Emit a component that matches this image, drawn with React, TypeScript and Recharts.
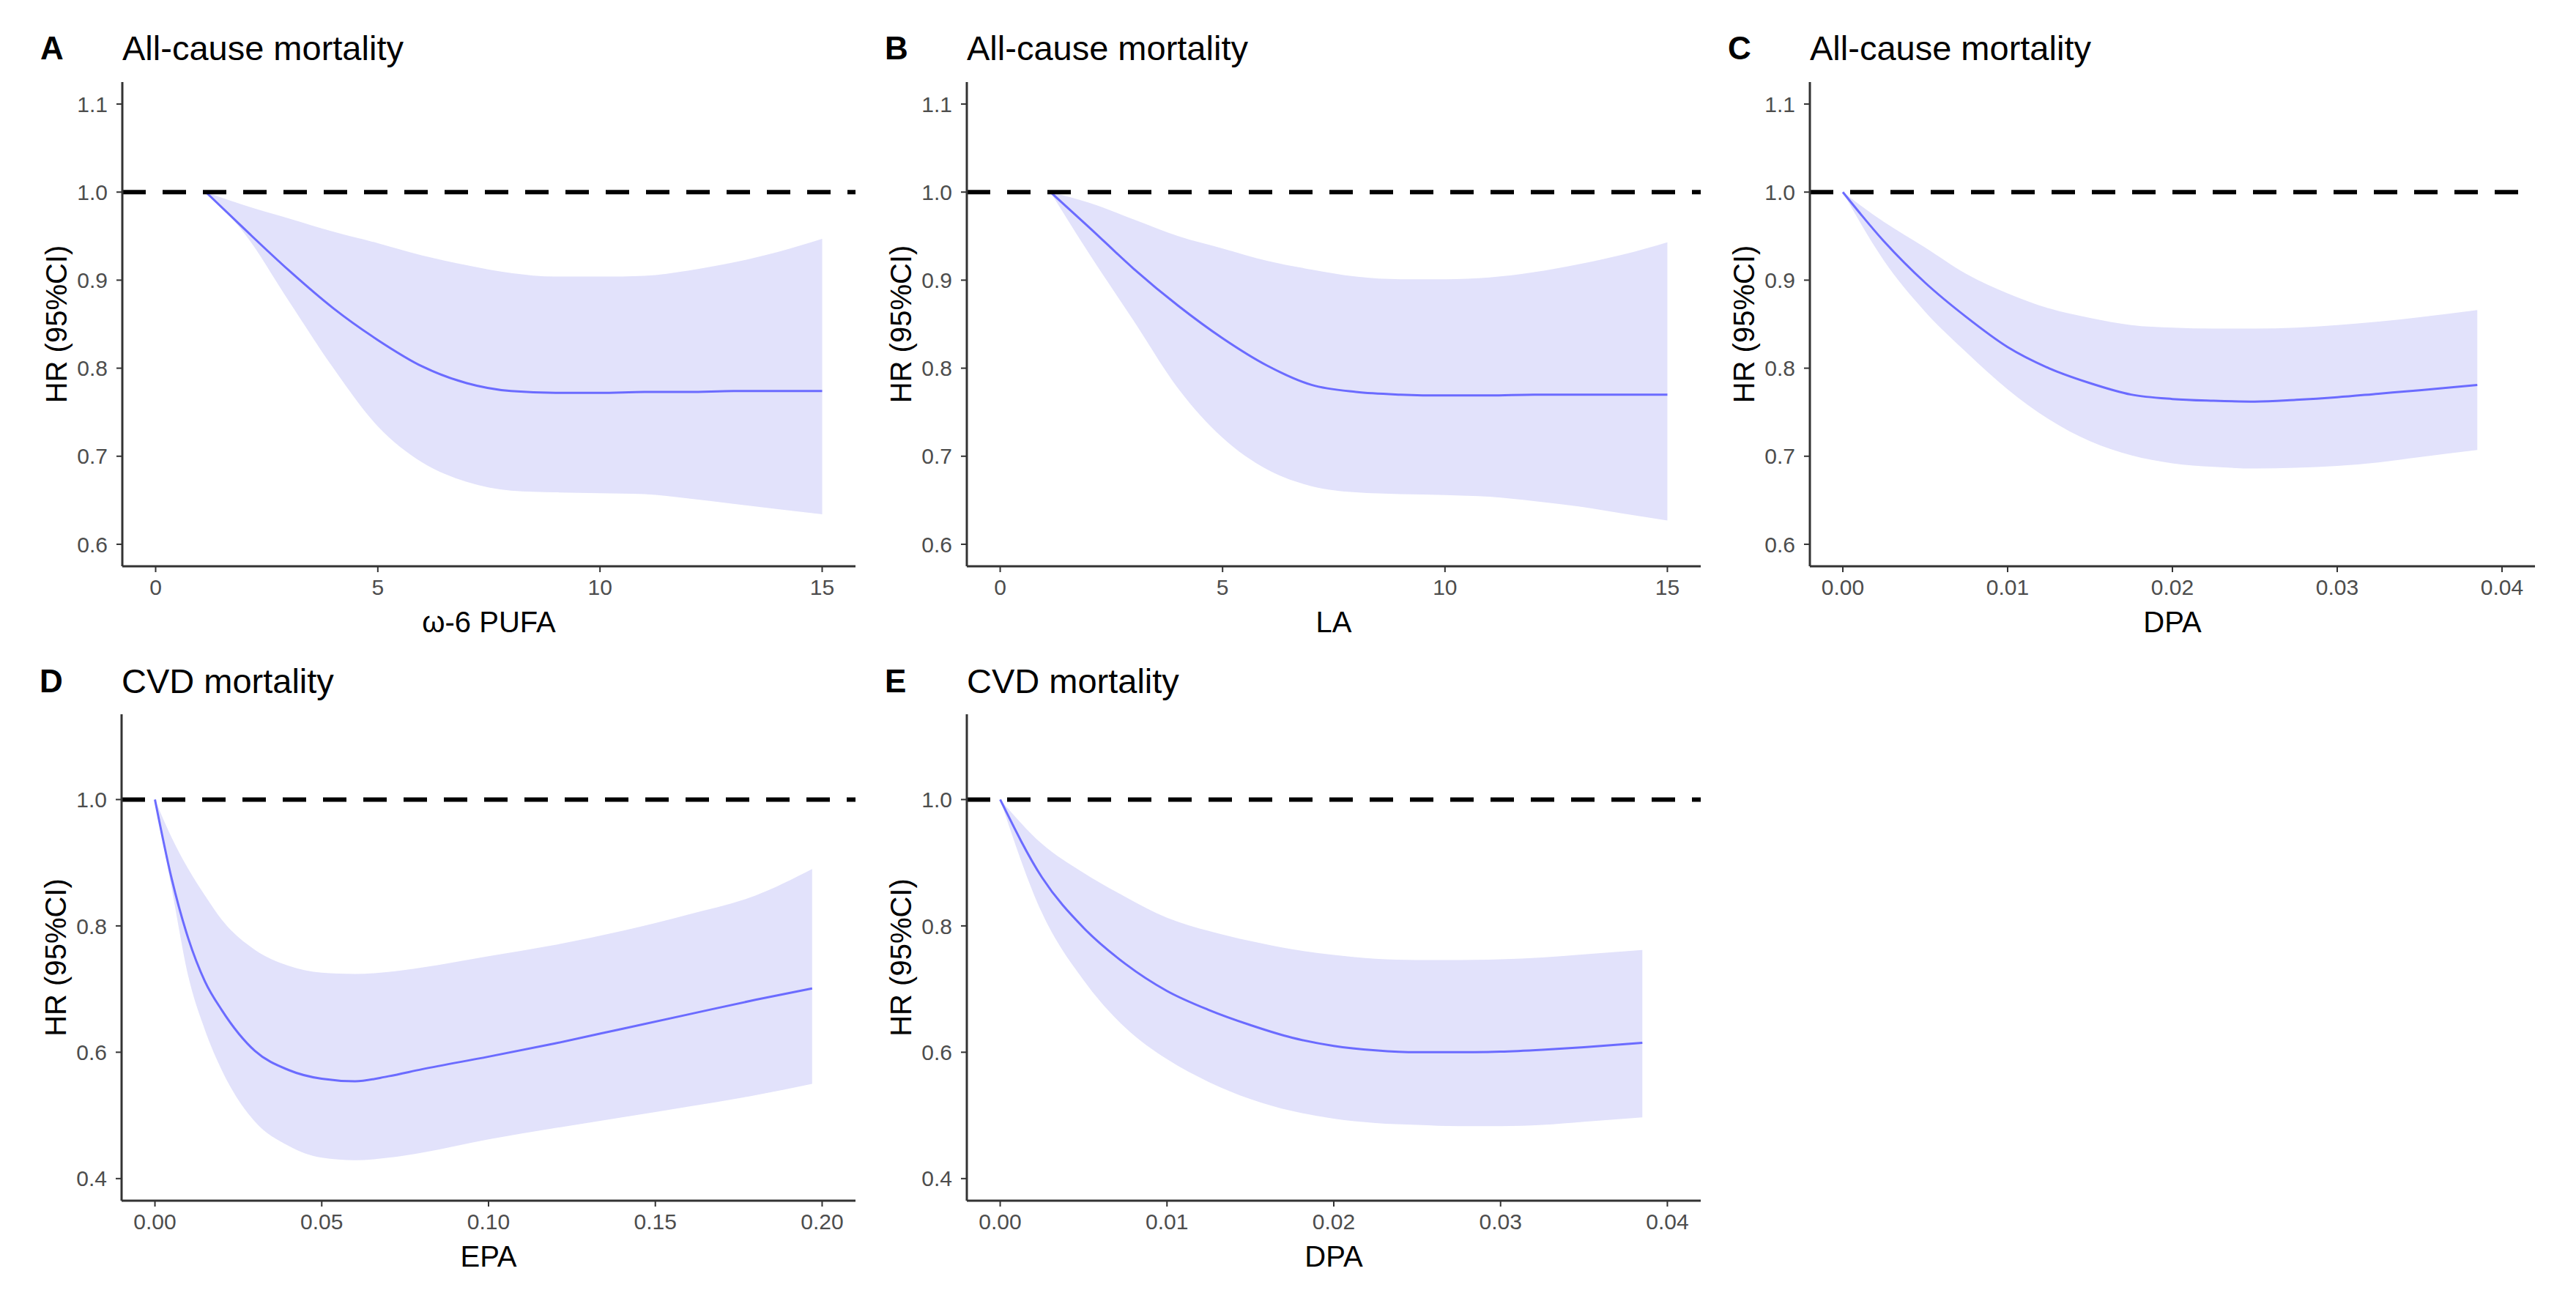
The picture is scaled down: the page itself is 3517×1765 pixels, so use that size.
import { ComposedChart, Area, Line, XAxis, YAxis, ReferenceLine } from 'recharts';

// ---- data (x, HR, 95% CI low / high) ----
const PUFA_X = [1.13, 2, 3, 4, 5, 6, 7, 8, 9, 10, 11, 12, 13, 14, 15];

const A_HR = [1.0, 0.958, 0.911, 0.868, 0.832, 0.802, 0.783, 0.774, 0.772, 0.772, 0.773, 0.773, 0.774, 0.774, 0.774];
const A_LOW = [1.0, 0.953, 0.876, 0.8, 0.734, 0.693, 0.671, 0.661, 0.659, 0.658, 0.657, 0.652, 0.646, 0.64, 0.634];
const A_HIGH = [1.0, 0.985, 0.97, 0.955, 0.942, 0.928, 0.917, 0.908, 0.904, 0.904, 0.905, 0.911, 0.92, 0.932, 0.947];

const B_HR = [1.0, 0.96, 0.913, 0.871, 0.834, 0.803, 0.781, 0.773, 0.77, 0.769, 0.769, 0.77, 0.77, 0.77, 0.77];
const B_LOW = [1.0, 0.93, 0.854, 0.777, 0.721, 0.685, 0.666, 0.659, 0.657, 0.656, 0.654, 0.649, 0.643, 0.635, 0.627];
const B_HIGH = [1.0, 0.988, 0.969, 0.95, 0.936, 0.922, 0.912, 0.904, 0.901, 0.901, 0.903, 0.909, 0.918, 0.929, 0.943];

const DPA_X = [0, 0.0025, 0.005, 0.0075, 0.01, 0.0125, 0.015, 0.0175, 0.02, 0.0225, 0.025, 0.0275, 0.03, 0.0325, 0.035, 0.0385];

const C_HR = [1.0, 0.944, 0.897, 0.858, 0.824, 0.8, 0.783, 0.77, 0.765, 0.763, 0.762, 0.764, 0.767, 0.771, 0.775, 0.781];
const C_LOW = [1.0, 0.922, 0.864, 0.818, 0.776, 0.742, 0.717, 0.701, 0.692, 0.688, 0.686, 0.687, 0.689, 0.693, 0.699, 0.707];
const C_HIGH = [1.0, 0.966, 0.937, 0.907, 0.885, 0.868, 0.857, 0.849, 0.846, 0.845, 0.845, 0.846, 0.849, 0.853, 0.858, 0.866];

const E_HR = [1.0, 0.877, 0.797, 0.74, 0.697, 0.667, 0.643, 0.623, 0.61, 0.603, 0.6, 0.6, 0.601, 0.604, 0.608, 0.615];
const E_LOW = [1.0, 0.821, 0.714, 0.639, 0.589, 0.553, 0.526, 0.507, 0.495, 0.488, 0.485, 0.483, 0.483, 0.485, 0.49, 0.497];
const E_HIGH = [1.0, 0.93, 0.884, 0.846, 0.813, 0.792, 0.776, 0.763, 0.754, 0.748, 0.746, 0.746, 0.747, 0.75, 0.755, 0.762];

const EPA_X = [0, 0.005, 0.01, 0.015, 0.02, 0.03, 0.04, 0.05, 0.06, 0.07, 0.08, 0.1, 0.12, 0.14, 0.16, 0.18, 0.197];
const D_HR = [1.0, 0.875, 0.78, 0.712, 0.667, 0.602, 0.572, 0.558, 0.554, 0.562, 0.573, 0.593, 0.614, 0.637, 0.66, 0.683, 0.701];
const D_LOW = [1.0, 0.86, 0.72, 0.635, 0.572, 0.49, 0.452, 0.433, 0.429, 0.433, 0.441, 0.462, 0.48, 0.497, 0.514, 0.532, 0.55];
const D_HIGH = [1.0, 0.94, 0.89, 0.848, 0.81, 0.762, 0.737, 0.726, 0.724, 0.727, 0.734, 0.752, 0.77, 0.792, 0.818, 0.848, 0.89];

const TICKS_PUFA = [0, 5, 10, 15];
const TICKS_DPA = [0, 0.01, 0.02, 0.03, 0.04];
const TICKS_EPA = [0, 0.05, 0.1, 0.15, 0.2];
const Y_TICKS_ALL = [0.6, 0.7, 0.8, 0.9, 1.0, 1.1];
const Y_TICKS_CVD = [0.4, 0.6, 0.8, 1.0];

const FONT = '"Liberation Sans", Arial, sans-serif';
const BAND = '#E2E2FB';
const LINE = '#6B6BFF';
const AXIS = '#333333';
const TICK_TEXT = '#4D4D4D';

const rows = (x: number[], hr: number[], lo: number[], hi: number[]) =>
  x.map((v, i) => ({ x: v, hr: hr[i], band: [lo[i], hi[i]] }));

const PANELS = [
  { letter: 'A', title: 'All-cause mortality', xLabel: 'ω-6 PUFA', data: rows(PUFA_X, A_HR, A_LOW, A_HIGH),
    xDomain: [-0.75, 15.75], xTicks: TICKS_PUFA, digits: 0, yDomain: [0.575, 1.125], yTicks: Y_TICKS_ALL,
    plotLeft: 167, plotRight: 1168, row: 0 },
  { letter: 'B', title: 'All-cause mortality', xLabel: 'LA', data: rows(PUFA_X, B_HR, B_LOW, B_HIGH),
    xDomain: [-0.75, 15.75], xTicks: TICKS_PUFA, digits: 0, yDomain: [0.575, 1.125], yTicks: Y_TICKS_ALL,
    plotLeft: 1320, plotRight: 2322, row: 0 },
  { letter: 'C', title: 'All-cause mortality', xLabel: 'DPA', data: rows(DPA_X, C_HR, C_LOW, C_HIGH),
    xDomain: [-0.002, 0.042], xTicks: TICKS_DPA, digits: 2, yDomain: [0.575, 1.125], yTicks: Y_TICKS_ALL,
    plotLeft: 2471, plotRight: 3461, row: 0 },
  { letter: 'D', title: 'CVD mortality', xLabel: 'EPA', data: rows(EPA_X, D_HR, D_LOW, D_HIGH),
    xDomain: [-0.01, 0.21], xTicks: TICKS_EPA, digits: 2, yDomain: [0.365, 1.135], yTicks: Y_TICKS_CVD,
    plotLeft: 166, plotRight: 1168, row: 1 },
  { letter: 'E', title: 'CVD mortality', xLabel: 'DPA', data: rows(DPA_X, E_HR, E_LOW, E_HIGH),
    xDomain: [-0.002, 0.042], xTicks: TICKS_DPA, digits: 2, yDomain: [0.365, 1.135], yTicks: Y_TICKS_CVD,
    plotLeft: 1320, plotRight: 2322, row: 1 },
];

// row geometry: chart top, plot top margin, chart height, x-axis height, title centre
const ROWS = [
  { top: 0, marginTop: 112, height: 900, xAxisH: 127, titleY: 66 },
  { top: 870, marginTop: 105, height: 895, xAxisH: 126, titleY: 930 },
];
const Y_AXIS_W = 167;

const XTitle = ({ viewBox, text }: any) => (
  <text x={viewBox.x + viewBox.width / 2} y={viewBox.y + 76} textAnchor="middle" dominantBaseline="central"
    fontSize={40} fill="#000" fontFamily={FONT}>{text}</text>
);

const YTitle = ({ viewBox, text }: any) => {
  const cx = viewBox.x + viewBox.width - 90;
  const cy = viewBox.y + viewBox.height / 2;
  return (
    <text x={cx} y={cy} transform={`rotate(-90, ${cx}, ${cy})`} textAnchor="middle" dominantBaseline="central"
      fontSize={40} fill="#000" fontFamily={FONT}>{text}</text>
  );
};

const PanelChart = ({ p }: any) => {
  const r = ROWS[p.row];
  const left = p.plotLeft - Y_AXIS_W;
  const width = p.plotRight - left + 30;
  return (
    <div style={{ position: 'absolute', left, top: r.top, width, height: r.height }}>
      <ComposedChart width={width} height={r.height} data={p.data}
        margin={{ top: r.marginTop, right: 30, bottom: 0, left: 0 }} style={{ fontFamily: FONT }}>
        <XAxis type="number" dataKey="x" domain={p.xDomain} ticks={p.xTicks} interval={0} allowDataOverflow
          height={r.xAxisH} tickSize={8} tickMargin={10}
          tickFormatter={(v: number) => v.toFixed(p.digits)}
          tick={{ fill: TICK_TEXT, fontSize: 30 }}
          axisLine={{ stroke: AXIS, strokeWidth: 3 }} tickLine={{ stroke: AXIS, strokeWidth: 2 }}
          label={<XTitle text={p.xLabel} />} />
        <YAxis type="number" domain={p.yDomain} ticks={p.yTicks} interval={0} allowDataOverflow
          width={Y_AXIS_W} tickSize={8} tickMargin={12}
          tickFormatter={(v: number) => v.toFixed(1)}
          tick={{ fill: TICK_TEXT, fontSize: 30 }}
          axisLine={{ stroke: AXIS, strokeWidth: 3 }} tickLine={{ stroke: AXIS, strokeWidth: 2 }}
          label={<YTitle text="HR (95%CI)" />} />
        <Area type="monotone" dataKey="band" stroke="none" fill={BAND} fillOpacity={1}
          isAnimationActive={false} dot={false} activeDot={false} />
        <Line type="monotone" dataKey="hr" stroke={LINE} strokeWidth={3} dot={false} activeDot={false}
          isAnimationActive={false} />
        <ReferenceLine y={1} stroke="#000" strokeWidth={6} strokeDasharray="32 23" />
      </ComposedChart>
      <div style={{ position: 'absolute', left: p.plotLeft - left - 112, top: r.titleY - r.top - 30, height: 60,
        lineHeight: '60px', fontFamily: FONT, fontSize: 44, fontWeight: 'bold', color: '#000' }}>{p.letter}</div>
      <div style={{ position: 'absolute', left: p.plotLeft - left, top: r.titleY - r.top - 30, height: 60,
        lineHeight: '60px', fontFamily: FONT, fontSize: 47, color: '#000', whiteSpace: 'nowrap' }}>{p.title}</div>
    </div>
  );
};

export default function App() {
  return (
    <div style={{ position: 'absolute', left: 0, top: 0, width: 3517, height: 1765, background: '#fff', overflow: 'hidden' }}>
      {PANELS.map((p) => (
        <PanelChart key={p.letter} p={p} />
      ))}
    </div>
  );
}
